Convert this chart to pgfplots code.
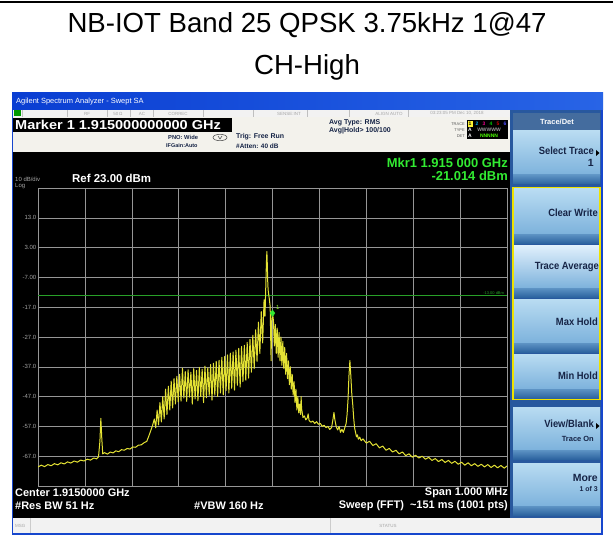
\documentclass[border=0pt]{standalone}
\usepackage{graphicx}
\usepackage{pgfplots}
\pgfplotsset{compat=1.18}
\usepackage{fontspec}
\setmainfont{Liberation Sans}
\definecolor{trace}{RGB}{228,226,52}
\definecolor{gridc}{RGB}{150,150,150}
\definecolor{xpblue}{RGB}{22,70,205}
\definecolor{tbleft}{RGB}{10,62,210}
\definecolor{tbright}{RGB}{40,100,230}
\definecolor{keytop}{RGB}{185,220,242}
\definecolor{keylight}{RGB}{225,240,252}
\definecolor{keymid}{RGB}{125,178,220}
\definecolor{keybot}{RGB}{45,100,160}
\definecolor{navy}{RGB}{22,36,70}
\definecolor{mkgreen}{RGB}{50,235,50}
\definecolor{dlgreen}{RGB}{40,160,40}
\definecolor{hdr}{RGB}{243,242,236}
\definecolor{panel}{RGB}{40,88,158}
\definecolor{tdhead}{RGB}{68,108,158}
\definecolor{labgray}{RGB}{165,165,165}
\newcommand{\fs}[1]{\fontsize{#1}{#1}\selectfont}
\newcommand{\softkey}[3]{%
  \shade[top color=#1, bottom color=keymid] (513,-#2) rectangle (600,{-#3+9});
  \shade[top color=keymid!60!keybot, bottom color=keybot] (513,{-#3+9}) rectangle (600,-#3);
}
\begin{document}
\begin{tikzpicture}[x=1bp,y=1bp]
\useasboundingbox (0,0) rectangle (613,-538);
\fill[white] (0,0) rectangle (613,-538);
\draw[black, line width=1.5bp] (0,-2) -- (613,-2);
\node[anchor=base, font=\fs{27.7}, inner sep=0] at (307,-33) {NB-IOT Band 25 QPSK 3.75kHz 1@47};
\node[anchor=base, font=\fs{27.7}, inner sep=0] at (307,-75) {CH-High};
% screenshot frame
\fill[xpblue] (12,-93) rectangle (603,-535);
\shade[left color=tbleft, right color=tbright] (12,-93) rectangle (603,-110);
\node[anchor=west, text=white, font=\fs{7.5}, inner sep=0] at (16,-101.5) {Agilent Spectrum Analyzer - Swept SA};
% status row
\fill[gray!10] (13,-110) rectangle (510,-117);
\foreach \sx in {22,67,107,130,153,203,253,307,349,408} {\draw[gray!50, line width=0.4bp] (\sx,-110) -- (\sx,-117);}
\fill[green!60!black] (14,-110.5) rectangle (21,-116.5);
\begin{scope}[every node/.style={font=\fs{4.5}, text=gray!70, inner sep=0}]
\node at (87,-113.5) {RF};
\node at (118,-113.5) {50\,Ω};
\node at (142,-113.5) {AC};
\node at (178,-113.5) {CORREC};
\node at (289,-113.5) {SENSE:INT};
\node at (389,-113.5) {ALIGN AUTO};
\node at (457,-113.5) {03:23:05 PM Dec 10, 2018};
\end{scope}
% header area
\fill[hdr] (13,-117) rectangle (510,-152);
\fill[black] (13,-118) rectangle (232,-132);
\node[anchor=west, text=white, font=\bfseries\fs{13}, inner sep=0] at (15,-125) {\scalebox{1.12}[1]{Marker 1 1.915000000000 GHz}};
\node[anchor=west, text=navy, font=\bfseries\fs{5.8}, inner sep=0] at (168,-137) {PNO: Wide};
\node[anchor=west, text=navy, font=\bfseries\fs{5.5}, inner sep=0] at (166,-146) {IFGain:Auto};
\draw[gray!70!black, line width=0.6bp] (220,-137.5) ellipse (7 and 3.2);
\draw[gray!70!black, line width=0.6bp] (218,-136) -- (220,-139) -- (222,-136);
\node[anchor=west, text=navy, font=\bfseries\fs{7}, inner sep=0] at (236,-137) {Trig: Free Run};
\node[anchor=west, text=navy, font=\bfseries\fs{6.5}, inner sep=0] at (236,-146) {\#Atten: 40 dB};
\node[anchor=west, text=navy, font=\bfseries\fs{7}, inner sep=0] at (329,-123) {Avg Type: RMS};
\node[anchor=west, text=navy, font=\bfseries\fs{7}, inner sep=0] at (329,-131) {Avg|Hold\textgreater\ 100/100};
\begin{scope}[every node/.style={font=\fs{4}, text=gray!70!black, inner sep=0, anchor=east}]
\node at (465,-124) {TRACE};
\node at (465,-130) {TYPE};
\node at (465,-136) {DET};
\end{scope}
\fill[black] (467,-120.5) rectangle (508,-139.5);
\fill[yellow!80!white] (467.5,-121) rectangle (472.5,-127);
\begin{scope}[every node/.style={font=\bfseries\fs{5}, inner sep=0}]
\node[text=black] at (470,-124) {1};
\node[text=cyan] at (477,-124) {2};
\node[text=magenta] at (484,-124) {3};
\node[text=green!80!black] at (491,-124) {4};
\node[text=red!80!black] at (498,-124) {5};
\node[text=blue!70!white] at (505,-124) {6};
\node[text=white] at (470,-130) {A};
\node[text=gray!80] at (489,-130) {WWWWW};
\node[text=white] at (470,-136) {A};
\node[text=green!70!yellow] at (489,-136) {NNNNN};
\end{scope}
% display area
\fill[black] (13,-152) rectangle (510,-518);
\node[anchor=west, text=labgray, font=\fs{6}, inner sep=0] at (15,-179) {10 dB/div};
\node[anchor=west, text=labgray, font=\fs{6}, inner sep=0] at (15,-186) {Log};
\node[anchor=west, text=white, font=\bfseries\fs{11.5}, inner sep=0] at (72,-178) {Ref 23.00 dBm};
\node[anchor=east, text=mkgreen, font=\bfseries\fs{13}, inner sep=0] at (508,-163) {Mkr1 1.915 000 GHz};
\node[anchor=east, text=mkgreen, font=\bfseries\fs{13}, inner sep=0] at (508,-176) {-21.014 dBm};
\node[anchor=west, text=white, font=\bfseries\fs{11}, inner sep=0] at (15,-493) {Center 1.9150000 GHz};
\node[anchor=west, text=white, font=\bfseries\fs{11}, inner sep=0] at (15,-506) {\#Res BW 51 Hz};
\node[anchor=west, text=white, font=\bfseries\fs{11}, inner sep=0] at (194,-506) {\#VBW 160 Hz};
\node[anchor=east, text=white, font=\bfseries\fs{11}, inner sep=0] at (508,-493) {Span 1.000 MHz};
\node[anchor=east, text=white, font=\bfseries\fs{11}, inner sep=0] at (508,-506) {Sweep (FFT)\ \ \textasciitilde151 ms (1001 pts)};
% message bar
\fill[gray!10] (13,-518) rectangle (601,-533);
\draw[gray!40, line width=0.4bp] (30,-518) -- (30,-533);
\draw[gray!40, line width=0.4bp] (330,-518) -- (330,-533);
\node[anchor=west, text=gray!70, font=\fs{4.5}, inner sep=0] at (15,-525.5) {MSG};
\node[text=gray!70, font=\fs{4.5}, inner sep=0] at (388,-525.5) {STATUS};
% softkey panel
\fill[panel] (510,-110) rectangle (601,-518);
\fill[tdhead] (513,-113) rectangle (600,-130);
\node[text=white, font=\bfseries\fs{7.5}, inner sep=0] at (557,-121.5) {Trace/Det};
\softkey{keytop}{131}{184}
\softkey{keytop}{189}{243}
\softkey{keylight}{245}{297}
\softkey{keytop}{299}{352}
\softkey{keytop}{354}{398}
\softkey{keytop}{407}{459}
\softkey{keytop}{463}{515}
\draw[yellow!85!olive, line width=1.1bp] (513,-187.5) rectangle (600,-399.5);
\begin{scope}[every node/.style={text=navy, font=\bfseries\fs{10.5}, inner sep=0, anchor=east}]
\node at (594,-151) {\scalebox{0.9}[1]{Select Trace}};
\node at (594,-163) {1};
\node at (598,-213) {\scalebox{0.9}[1]{Clear Write}};
\node at (599,-267) {\scalebox{0.9}[1]{Trace Average}};
\node at (598,-322) {\scalebox{0.9}[1]{Max Hold}};
\node at (598,-376) {\scalebox{0.9}[1]{Min Hold}};
\node at (594,-424) {\scalebox{0.9}[1]{View/Blank}};
\node[font=\bfseries\fs{7.5}] at (594,-439) {Trace On};
\node at (598,-478) {More};
\node[font=\bfseries\fs{7}] at (598,-489) {1 of 3};
\end{scope}
\fill[black] (596,-150) -- (599.5,-153) -- (596,-156) -- cycle;
\fill[black] (596,-423) -- (599.5,-426) -- (596,-429) -- cycle;
% the plot
\begin{axis}[at={(38bp,-188bp)}, anchor=north west, width=469bp, height=298bp, scale only axis,
  xmin=-500, xmax=500, ymin=-77, ymax=23,
  xtick={-400,-300,...,400}, ytick={-67,-57,...,13},
  xticklabels={},
  yticklabels={-67.0,-57.0,-47.0,-37.0,-27.0,-17.0,-7.00,3.00,13.0},
  yticklabel style={font=\fs{6}, text=labgray, inner sep=1.5bp},
  grid=major, major grid style={gridc, line width=0.6bp},
  axis line style={gridc, line width=0.8bp},
  tick style={draw=none},
  axis background/.style={fill=black}]
\addplot[dlgreen, line width=0.8bp] coordinates {(-500,-13) (500,-13)};
\addplot[trace, line width=1.0bp, line join=round] table {
x y
-500 -70.6
-493 -70.0
-486 -70.5
-479 -69.8
-472 -70.2
-465 -69.5
-458 -69.9
-451 -69.2
-444 -69.6
-437 -68.9
-430 -69.3
-423 -68.6
-416 -69.0
-409 -68.3
-402 -68.6
-395 -68.0
-388 -68.3
-381 -67.6
-375 -67.9
-371 -67.2
-368 -62.0
-366 -54.3
-364 -61.0
-362 -66.2
-358 -65.8
-352 -66.3
-346 -65.6
-340 -65.9
-334 -65.2
-328 -65.5
-322 -64.8
-316 -65.0
-310 -64.4
-304 -64.6
-298 -63.9
-292 -64.0
-286 -63.3
-280 -63.2
-274 -62.5
-268 -62.0
-262 -59.5
-256 -56.8
-252 -54.5
-249 -57.5
-246 -51.5
-243 -56.5
-240 -49.0
-237 -55.5
-234 -47.0
-231 -54.5
-228 -44.5
-225 -53.0
-222 -43.5
-219 -51.5
-216 -41.8
-213 -50.8
-210 -41.0
-207 -49.5
-204 -40.2
-201 -48.8
-198 -39.5
-195 -48.5
-192 -37.5
-189 -47.5
-186 -38.6
-183 -48.6
-180 -38.0
-177 -47.2
-174 -38.8
-171 -49.5
-168 -37.6
-165 -47.8
-162 -38.2
-159 -48.4
-156 -37.2
-153 -47.0
-150 -37.8
-147 -49.0
-144 -36.8
-141 -47.4
-138 -37.4
-135 -46.6
-132 -36.2
-129 -48.2
-126 -35.8
-123 -46.5
-120 -35.2
-117 -47.0
-114 -34.8
-111 -45.8
-108 -33.8
-105 -46.4
-102 -33.5
-99 -45.0
-96 -33.0
-93 -45.8
-90 -32.4
-87 -44.2
-84 -32.0
-81 -44.8
-78 -31.4
-75 -43.2
-72 -30.8
-69 -43.8
-66 -30.2
-63 -42.0
-60 -29.8
-57 -41.5
-54 -28.8
-51 -40.8
-48 -27.8
-45 -38.8
-42 -26.4
-39 -37.6
-36 -24.6
-33 -35.2
-30 -22.0
-27 -32.5
-24 -18.5
-21 -29.0
-18 -14.5
-16 -20.0
-14 -8.0
-13 -2.0
-12 1.7
-11 -3.0
-10 -9.5
-9 -11.7
-7 -14.0
-5 -16.7
-4 -26.0
-3 -35.0
-2 -22.0
0 -19.0
2 -21.5
4 -30.0
6 -22.8
8 -32.5
10 -24.0
12 -33.8
14 -25.5
16 -35.0
18 -27.0
20 -36.5
22 -28.5
24 -37.5
26 -30.5
28 -39.5
30 -32.5
32 -41.0
34 -35.0
36 -43.0
38 -37.0
40 -44.5
42 -39.5
44 -46.5
46 -42.0
48 -49.0
50 -44.5
52 -51.5
54 -47.0
56 -52.5
58 -49.5
60 -53.0
61 -47.0
62 -51.0
65 -54.0
68 -53.5
71 -54.8
74 -54.2
76 -52.8
78 -55.0
82 -55.6
86 -55.2
90 -56.0
94 -55.4
98 -56.3
102 -56.0
106 -57.0
110 -56.6
114 -57.4
118 -57.0
122 -58.0
126 -57.4
129 -54.5
131 -52.3
133 -54.8
136 -57.2
139 -58.2
142 -57.0
145 -59.0
148 -58.0
151 -59.0
154 -57.5
157 -56.0
159 -53.0
161 -48.0
163 -40.0
165 -34.9
167 -40.0
169 -46.0
171 -49.5
173 -54.0
175 -57.5
177 -59.0
179 -60.5
181 -59.8
183 -61.3
186 -60.6
189 -61.8
193 -61.2
200 -62.6
207 -62.0
214 -63.4
221 -62.8
228 -64.2
235 -63.6
242 -65.0
249 -64.4
256 -65.6
263 -65.0
270 -66.2
277 -65.6
284 -66.8
291 -66.2
298 -67.3
305 -66.7
312 -67.6
319 -67.0
326 -68.0
333 -67.4
340 -68.4
347 -67.8
354 -68.8
361 -68.1
368 -69.1
375 -68.4
382 -69.4
389 -68.7
396 -69.7
403 -69.0
410 -70.0
417 -69.2
424 -70.2
431 -69.5
438 -70.4
445 -69.7
452 -70.6
459 -69.8
466 -70.8
473 -70.0
480 -70.9
487 -70.1
494 -71.0
500 -70.3
};
\addplot[only marks, mark=diamond*, mark size=3.2bp, mark options={fill=mkgreen, draw=mkgreen}] coordinates {(0,-19)};
\node[text=mkgreen!60!yellow, font=\fs{6}, anchor=south west, inner sep=0.5bp] at (axis cs:6,-18) {1};
\node[text=dlgreen, font=\fs{4}, anchor=south east, inner sep=0.5bp] at (axis cs:495,-13) {-13.00 dBm};
\end{axis}
\end{tikzpicture}
\end{document}
